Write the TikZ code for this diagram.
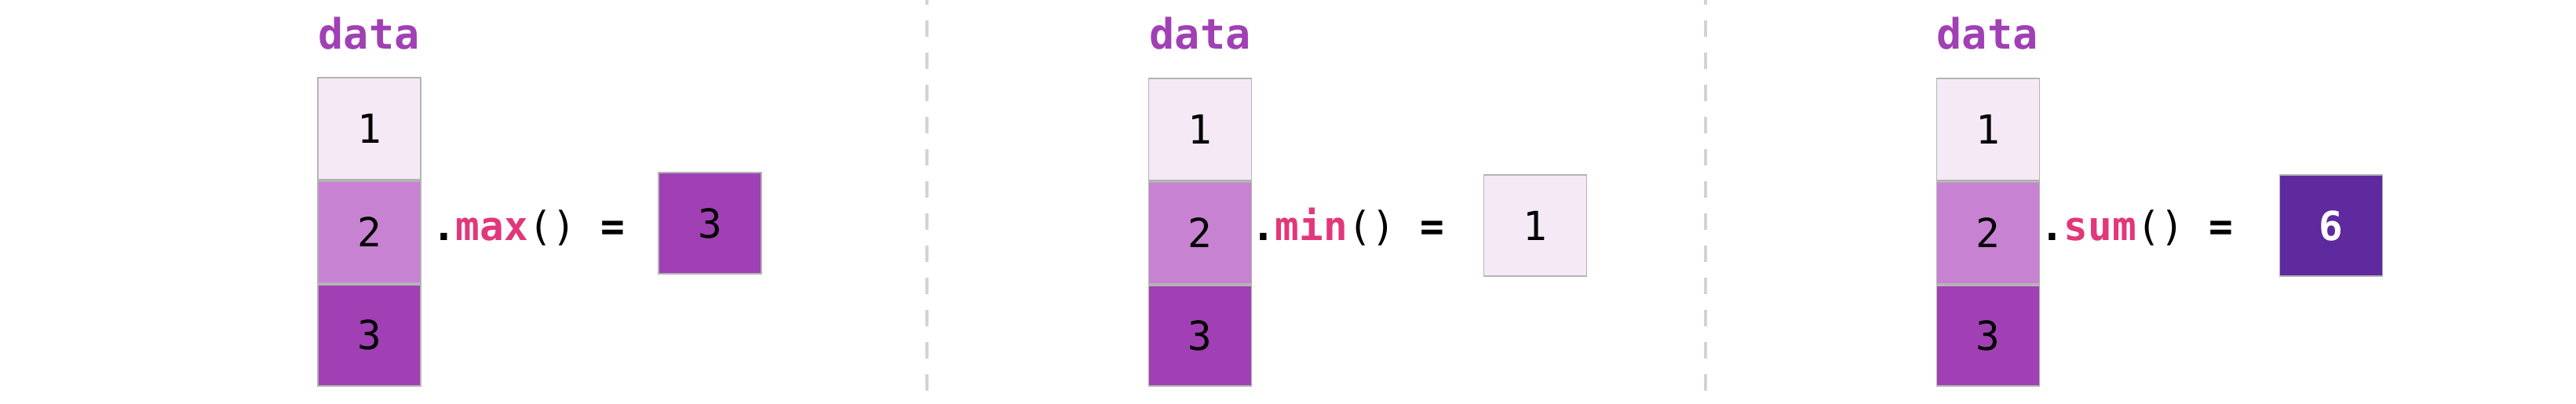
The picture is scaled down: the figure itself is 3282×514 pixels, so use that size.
\documentclass[tikz,border=0pt]{standalone}
\usepackage{fontspec}
\newfontfamily\dvm{DejaVu Sans Mono}
\definecolor{cellA}{HTML}{F5E9F5}
\definecolor{cellB}{HTML}{C882D2}
\definecolor{cellC}{HTML}{A040B4}
\definecolor{sumC}{HTML}{5E2A9E}
\definecolor{pinkC}{HTML}{E2377A}
\definecolor{borderC}{HTML}{B4B4B4}
\definecolor{divC}{HTML}{D3D3D3}
\newcommand{\opline}[1]{\textbf{.}\textbf{\color{pinkC}#1}() \textbf{=}}
\tikzset{
  cellbox/.style={draw=borderC, line width=0.5pt, inner sep=0pt,
    minimum width=1.31cm, minimum height=1.30cm,
    font=\dvm\fontsize{14.5}{17}\selectfont, text=black},
  resbox/.style={cellbox, minimum height=1.29cm},
  datalabel/.style={anchor=base, inner sep=0pt, text=cellC,
    font=\dvm\bfseries\fontsize{15.2}{18}\selectfont},
  optext/.style={anchor=base, inner sep=0pt, text=black,
    font=\dvm\fontsize{14.5}{17}\selectfont},
  divider/.style={draw=divC, line width=0.95pt, dash pattern=on 0.21cm off 0.20cm, dash phase=0.15cm}
}
\begin{document}
\begin{tikzpicture}[x=0.01cm,y=-0.01cm]
\useasboundingbox (0,0) rectangle (3282,514);
\fill[white] (0,0) rectangle (3282,514);

% dividers
\coordinate (v1t) at (1181,0);
\coordinate (v1b) at (1181,500);
\coordinate (v2t) at (2173,0);
\coordinate (v2b) at (2173,500);
\draw[divider] (v1t) -- (v1b);
\draw[divider] (v2t) -- (v2b);

% panel 1: max
\node[datalabel] (d1) at (470,62) {data};
\node[cellbox, fill=cellA] (p1c1) at (470.5,164) {1};
\node[cellbox, fill=cellB, anchor=north] (p1c2) at (p1c1.south) {2};
\node[cellbox, fill=cellC, anchor=north, minimum height=1.29cm] (p1c3) at (p1c2.south) {3};
\node[optext] (o1) at (673,306) {\opline{max}};
\node[resbox, fill=cellC] (r1) at (904.5,284.5) {3};

% panel 2: min
\node[datalabel] (d2) at (1529,62) {data};
\node[cellbox, fill=cellA] (p2c1) at (1529,165) {1};
\node[cellbox, fill=cellB, anchor=north] (p2c2) at (p2c1.south) {2};
\node[cellbox, fill=cellC, anchor=north, minimum height=1.28cm] (p2c3) at (p2c2.south) {3};
\node[optext] (o2) at (1717,306) {\opline{min}};
\node[resbox, fill=cellA] (r2) at (1956,287.5) {1};

% panel 3: sum
\node[datalabel] (d3) at (2532,62) {data};
\node[cellbox, fill=cellA] (p3c1) at (2533,165) {1};
\node[cellbox, fill=cellB, anchor=north] (p3c2) at (p3c1.south) {2};
\node[cellbox, fill=cellC, anchor=north, minimum height=1.28cm] (p3c3) at (p3c2.south) {3};
\node[optext] (o3) at (2722,306) {\opline{sum}};
\node[resbox, fill=sumC, text=white] (r3) at (2970,287.5) {\bfseries 6};
\end{tikzpicture}
\end{document}
